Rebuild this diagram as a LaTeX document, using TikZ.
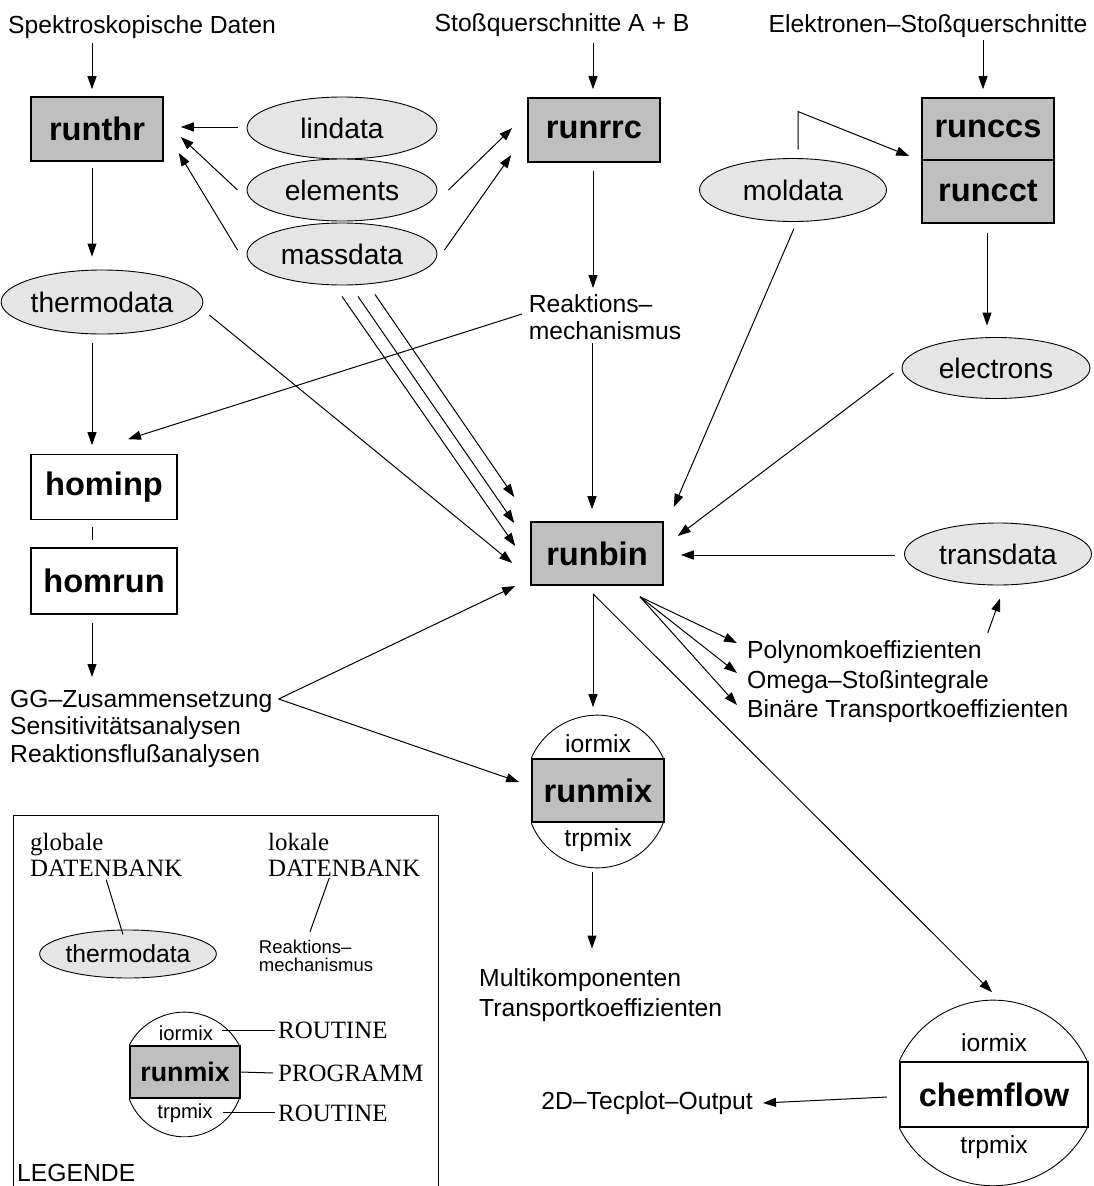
\documentclass[tikz,border=0pt]{standalone}
\usepackage{fontspec}
\setmainfont{Liberation Sans}
\newfontfamily\legserif{Liberation Serif}
\usetikzlibrary{arrows.meta,shapes.geometric}

\begin{document}
\begin{tikzpicture}[
    x=1pt, y=-1pt,
    >={Triangle[length=13pt,width=9pt]},
    prog/.style={
        draw,
        line width=1.6pt,
        fill=gray!50,
        inner sep=0pt,
        minimum width=132pt,
        minimum height=64pt,
        font=\fontsize{32.6}{36}\selectfont\bfseries
    },
    db/.style={
        ellipse,
        draw,
        line width=0.9pt,
        fill=gray!20,
        inner sep=0pt,
        minimum width=190pt,
        minimum height=62pt,
        font=\fontsize{28.2}{32}\selectfont
    },
    txt/.style={inner sep=0pt, align=left, font=\fontsize{24.7}{27.5}\selectfont},
    subtxt/.style={inner sep=0pt, font=\fontsize{20.3}{22}\selectfont},
    serifx/.style={inner sep=0pt, align=left, font=\fontsize{24.9}{26}\selectfont\legserif},
    rim/.style={line width=0.9pt},
    conn/.style={->, line width=1pt},
    link/.style={line width=1pt}
]
\useasboundingbox (0,0) rectangle (1094,1186);

% --- Eingangsdaten (oben) ---
\node[txt] (spek)  at (142,27) {Spektroskopische Daten};
\node[txt] (stoss) at (562,25) {Stoßquerschnitte A + B};
\node[txt] (elek)  at (928,26) {Elektronen–Stoßquerschnitte};

% --- Programme ---
\node[prog] (runthr) at (97,129) {runthr};
\node[prog] (runrrc) at (594,130) {runrrc};
\node[prog, minimum height=62pt] (runccs) at (988,129) {runccs};
\node[prog, minimum height=63pt] (runcct) at (988,191.5) {runcct};
\node[prog, fill=white, minimum width=146pt, minimum height=65pt] (hominp) at (104,487) {hominp};
\node[prog, fill=white, minimum width=146pt, minimum height=66pt] (homrun) at (104,581) {homrun};
\node[prog, minimum height=63pt] (runbin) at (597,553.5) {runbin};
\node[prog, minimum height=63pt] (runmix) at (598,790.5) {runmix};
\node[prog, fill=white, minimum width=188pt, minimum height=65pt] (chemflow) at (994,1094.5) {chemflow};

% --- Datenbanken ---
\node[db] (lindata)  at (342,128) {lindata};
\node[db] (elements) at (342,190) {elements};
\node[db] (massdata) at (342,254) {massdata};
\node[db, minimum width=187pt, minimum height=63pt] (moldata) at (793,190) {moldata};
\node[db, minimum width=188pt, minimum height=64pt] (thermodata) at (102,302) {thermodata};
\node[db, minimum width=188pt, minimum height=61pt] (electrons) at (996,368) {electrons};
\node[db, minimum width=187pt] (transdata) at (998,554) {transdata};

% --- Zwischen- und Endergebnisse ---
\node[txt] (reakt) at (605,317) {Reaktions–\\mechanismus};
\node[txt, anchor=north west] (gg) at (10,690) {GG–Zusammensetzung\\Sensitivitätsanalysen\\Reaktionsflußanalysen};
\node[txt, anchor=west] (poly1) at (747,652) {Polynomkoeffizienten};
\node[txt, anchor=west] (poly2) at (747,682) {Omega–Stoßintegrale};
\node[txt, anchor=west] (poly3) at (747,711) {Binäre Transportkoeffizienten};
\node[txt, anchor=west] (multi) at (479,995) {Multikomponenten\\[2pt]Transportkoeffizienten};
\node[txt, anchor=east] (tecplot) at (753,1103) {2D–Tecplot–Output};

% --- Routinen um runmix und chemflow ---
\node[txt] (mixio)  at (598,744)  {iormix};
\node[txt] (mixtrp) at (598,840)  {trpmix};
\node[txt] (cfio)   at (994,1043) {iormix};
\node[txt] (cftrp)  at (994,1147) {trpmix};
\draw[rim] (runmix.north west) arc[start angle=156.2, end angle=23.8, radius=72.15pt];
\draw[rim] (runmix.south west) arc[start angle=201.4, end angle=338.6, radius=70.9pt];
\draw[rim] (chemflow.north west) arc[start angle=156, end angle=24, radius=102.9pt];
\draw[rim] (chemflow.south west) arc[start angle=206.7, end angle=333.3, radius=105.2pt];

% --- Verbindungen links ---
\draw[conn] ([shift={(-50,16)}]spek.center) -- ([shift={(-5,-7)}]runthr.north);
\draw[conn] ([shift={(-9,-1)}]lindata.west) -- ([shift={(17,-2)}]runthr.east);
\draw[conn] ([shift={(-9,0)}]elements.west) -- ([shift={(17,8)}]runthr.east);
\draw[conn] ([shift={(-9,-4)}]massdata.west) -- ([shift={(15,24)}]runthr.east);
\draw[conn] ([shift={(-5,6)}]runthr.south) -- ([shift={(-10,-13)}]thermodata.north);
\draw[conn] ([shift={(-10,9)}]thermodata.south) -- ([shift={(-12,-8.5)}]hominp.north);
\draw[link] ([shift={(-12,6.5)}]hominp.south) -- ([shift={(-12,-7)}]homrun.north);
\draw[conn] ([shift={(-12,8)}]homrun.south) -- ([shift={(82,-13)}]gg.north west);

% --- Verbindungen Mitte ---
\draw[conn] ([shift={(11,0)}]elements.east) -- ([shift={(-15,-2)}]runrrc.west);
\draw[conn] ([shift={(7,-4)}]massdata.east) -- ([shift={(-16,25)}]runrrc.west);
\draw[conn] ([shift={(31,18)}]stoss.center) -- ([shift={(-1,-8)}]runrrc.north);
\draw[conn] ([shift={(-1,8)}]runrrc.south) -- ([shift={(-12,-29)}]reakt.center);
\draw[conn] ([shift={(-13,26)}]reakt.center) -- ([shift={(-5,-12)}]runbin.north);
\draw[conn] ([shift={(-83,-3)}]reakt.center) -- ([shift={(24,-14.5)}]hominp.north);
\draw[conn] ([shift={(6,13)}]thermodata.east) -- ([shift={(-18,9.5)}]runbin.west);
\draw[conn] ([shift={(0,11)}]massdata.south) -- ([shift={(-15,-7.5)}]runbin.west);
\draw[conn] ([shift={(16,11)}]massdata.south) -- ([shift={(-16,-30.5)}]runbin.west);
\draw[conn] ([shift={(33,9)}]massdata.south) -- ([shift={(-16,-56.5)}]runbin.west);
\draw[conn] ([shift={(6,9)}]gg.north east) -- ([shift={(-15,32.5)}]runbin.west);
\draw[conn] ([shift={(6,9)}]gg.north east) -- ([shift={(-12,-8.5)}]runmix.west);

% --- Verbindungen rechts ---
\draw[conn] ([shift={(55,14)}]elek.center) -- ([shift={(-5,-8)}]runccs.north);
\draw[conn] ([shift={(5,-8.5)}]moldata.north) -- ([shift={(5,-46.5)}]moldata.north) -- ([shift={(-12,27)}]runccs.west);
\draw[conn] ([shift={(1,6.5)}]moldata.south) -- ([shift={(10,-46.5)}]runbin.east);
\draw[conn] ([shift={(-1,9)}]runcct.south) -- ([shift={(-9,-11.5)}]electrons.north);
\draw[conn] ([shift={(-8,5)}]electrons.west) -- ([shift={(14,-17.5)}]runbin.east);
\draw[conn] ([shift={(-9.5,1)}]transdata.west) -- ([shift={(17,1.5)}]runbin.east);

% --- Ausgaben von runbin ---
\draw[conn] ([shift={(-4,8)}]runbin.south) -- ([shift={(-5,-51)}]runmix.north);
\draw[conn] ([shift={(-4,8)}]runbin.south) -- ([shift={(-2,-69)}]chemflow.north);
\draw[conn] ([shift={(43,11)}]runbin.south) -- ([shift={(-10,-9)}]poly1.west);
\draw[conn] ([shift={(43,11)}]runbin.south) -- ([shift={(-10,-9)}]poly2.west);
\draw[conn] ([shift={(43,11)}]runbin.south) -- ([shift={(-10,-6)}]poly3.west);
\draw[conn] ([shift={(6,-19)}]poly1.east) -- ([shift={(2,13)}]transdata.south);
\draw[conn] ([shift={(-6,49)}]runmix.south) -- ([shift={(113,-20)}]multi.north west);
\draw[conn] ([shift={(-12,2.5)}]chemflow.west) -- ([shift={(10,0)}]tecplot.east);

% --- Legende ---
\node[draw, line width=1pt, anchor=north west, inner sep=0pt,
      minimum width=425pt, minimum height=380pt] (legbox) at (13,815) {};
\node[serifx, anchor=west] (globdb) at (30,855) {globale\\DATENBANK};
\node[serifx, anchor=west] (locdb)  at (268,855) {lokale\\DATENBANK};
\node[db, minimum width=159pt, minimum height=48pt, font=\fontsize{24.7}{28}\selectfont] (lthermo) at (128,954) {thermodata};
\node[inner sep=0pt, align=left, font=\fontsize{18.5}{18.5}\selectfont] (lreakt) at (316,956) {Reaktions–\\mechanismus};
\draw[link] ([shift={(0,3)}]globdb.south) -- ([shift={(-5,5)}]lthermo.north);
\draw[link] ([shift={(-15,1)}]locdb.south) -- ([shift={(-6,-8)}]lreakt.north);

\node[prog, minimum width=110pt, minimum height=52pt, font=\fontsize{26.8}{30}\selectfont\bfseries] (lmix) at (185,1072) {runmix};
\node[subtxt] (lior) at (186,1033) {iormix};
\node[subtxt] (ltrp) at (185,1113) {trpmix};
\draw[rim] (lmix.north west) arc[start angle=152, end angle=28, radius=62.3pt];
\draw[rim] (lmix.south west) arc[start angle=200.7, end angle=339.3, radius=58.8pt];
\node[serifx, anchor=west] (rout1) at (278,1030) {ROUTINE};
\node[serifx, anchor=west] (progr) at (278,1073) {PROGRAMM};
\node[serifx, anchor=west] (rout2) at (278,1113) {ROUTINE};
\draw[link] ([shift={(9,-3)}]lior.east) -- ([shift={(-3,0)}]rout1.west);
\draw[link] (lmix.east) -- ([shift={(-5,0)}]progr.west);
\draw[link] ([shift={(10,-1)}]ltrp.east) -- ([shift={(-3,-1)}]rout2.west);
\node[txt, anchor=west] (legende) at (17,1173) {LEGENDE};

\end{tikzpicture}
\end{document}
